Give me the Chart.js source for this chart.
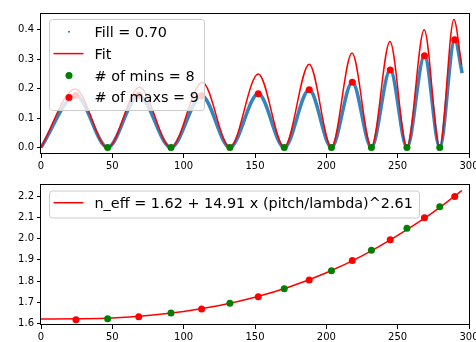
<!DOCTYPE html>
<html>
<head>
<meta charset="utf-8">
<script src="https://cdn.jsdelivr.net/npm/chart.js@4"></script>
<style>
  body { margin: 0; background: #fff; }
  canvas { display: block; }
</style>
</head>
<body>
<canvas id="topChart" width="476" height="171"></canvas>
<canvas id="bottomChart" width="476" height="171"></canvas>
<script>
// ---- top panel: fill ratio vs pitch ----
var fillX = [0, 24.5, 46.7, 68.5, 91.1, 112.6, 132.4, 152.3, 170.5, 188, 203.6, 218.2, 231.6, 244.8, 256.5, 268.8, 279.5, 290.0, 295.2]
var fillY = [0, 0.177, 0, 0.178, 0, 0.176, 0, 0.1825, 0, 0.196, 0, 0.222, 0, 0.263, 0, 0.312, 0, 0.366, 0.253]

var fitX = [0, 24.0, 46.7, 69.0, 91.1, 113.0, 132.4, 152.3, 170.5, 188, 203.6, 218.0, 231.6, 244.6, 256.5, 268.6, 279.5, 289.4, 294.8]
var fitY = [0, 0.199, 0, 0.205, 0, 0.222, 0, 0.250, 0, 0.283, 0, 0.321, 0, 0.360, 0, 0.400, 0, 0.435, 0.282]

var minX = [46.7, 91.1, 132.4, 170.5, 203.6, 231.6, 256.5, 279.5]
var minY = [0, 0, 0, 0, 0, 0, 0, 0]
var maxX = [24.5, 68.5, 112.6, 152.3, 188, 218.2, 244.8, 268.8, 290.0]
var maxY = [0.177, 0.178, 0.176, 0.1825, 0.196, 0.222, 0.263, 0.312, 0.366]

// ---- bottom panel: effective index ----
var neffFitX = [0, 25, 50, 75, 100, 125, 150, 175, 200, 225, 250, 275, 295]
var neffFitY = [1.620, 1.621, 1.625, 1.637, 1.656, 1.684, 1.723, 1.774, 1.839, 1.919, 2.016, 2.126, 2.228]
var neffMinY = [1.622, 1.649, 1.695, 1.763, 1.849, 1.946, 2.050, 2.151]
var neffMaxY = [1.617, 1.631, 1.668, 1.726, 1.805, 1.897, 1.995, 2.099, 2.200]

var xTicks = [0, 50, 100, 150, 200, 250, 300]
var topYTicks = [0.0, 0.1, 0.2, 0.3, 0.4]
var bottomYTicks = [1.6, 1.7, 1.8, 1.9, 2.0, 2.1, 2.2]

function pts(xs, ys) {
  return xs.map(function(x, i) { return { x: x, y: ys[i] } })
}

var spines = {
  id: 'spines',
  afterDraw: function(chart) {
    var a = chart.chartArea, ctx = chart.ctx
    ctx.save()
    ctx.strokeStyle = '#000'
    ctx.lineWidth = 1
    ctx.strokeRect(Math.round(a.left) - 0.5, Math.round(a.top) + 0.5,
      Math.round(a.right - a.left) + 1, Math.round(a.bottom - a.top) - 1)
    ctx.restore()
  }
}

// matplotlib style legend sitting inside the axes
var insideLegend = {
  id: 'insideLegend',
  afterDatasetsDraw: function(chart, args, opts) {
    var ctx = chart.ctx
    ctx.save()
    ctx.beginPath()
    ctx.roundRect(opts.x + 0.5, opts.y + 0.5, opts.w, opts.h, 3)
    ctx.fillStyle = 'rgba(255,255,255,0.8)'
    ctx.fill()
    ctx.strokeStyle = '#cccccc'
    ctx.lineWidth = 1
    ctx.stroke()
    ctx.font = '14.4px "DejaVu Sans"'
    ctx.textBaseline = 'alphabetic'
    var items = chart.data.datasets.filter(function(ds) { return ds.legendMarker })
    items.forEach(function(ds, i) {
      var base = opts.y + opts.first + i * opts.step
      var cy = base - 5
      ctx.fillStyle = ds.legendColor
      ctx.strokeStyle = ds.legendColor
      if (ds.legendMarker == 'line') {
        ctx.lineWidth = 1.5
        ctx.beginPath()
        ctx.moveTo(opts.x + 4.5, cy)
        ctx.lineTo(opts.x + 34.5, cy)
        ctx.stroke()
      } else {
        ctx.beginPath()
        ctx.arc(opts.x + 20, cy, ds.legendMarker == 'dot' ? 1 : 3.5, 0, Math.PI * 2)
        ctx.fill()
      }
      ctx.fillStyle = '#000'
      ctx.fillText(ds.label, opts.x + 45.5, base)
    })
    ctx.restore()
  }
}

function makeScales(yMin, yMax, yTicks) {
  var common = {
    type: 'linear',
    border: { display: false },
    grid: { display: true, drawOnChartArea: false, drawTicks: true, tickLength: 4, tickColor: '#000', tickWidth: 1 }
  }
  return {
    x: Object.assign({}, common, {
      min: 0, max: 300,
      ticks: { color: '#000', font: { family: 'DejaVu Sans', size: 10 }, padding: 2, maxRotation: 0,
        callback: function(v) { return String(v) } },
      afterBuildTicks: function(s) { s.ticks = xTicks.map(function(v) { return { value: v } }) },
      afterFit: function(s) { s.height = 17; s.paddingLeft = 0; s.paddingRight = 0 }
    }),
    y: Object.assign({}, common, {
      min: yMin, max: yMax,
      ticks: { color: '#000', font: { family: 'DejaVu Sans', size: 10 }, padding: 3,
        callback: function(v) { return v.toFixed(1) } },
      afterBuildTicks: function(s) { s.ticks = yTicks.map(function(v) { return { value: v } }) },
      afterFit: function(s) { s.width = 41; s.paddingTop = 0; s.paddingBottom = 0 }
    })
  }
}

document.addEventListener("DOMContentLoaded", function(event) {

new Chart(document.getElementById("topChart"), {
  type: 'scatter',
  data: {
    datasets: [
      {
        label: 'Fill = 0.70',
        data: pts(fillX, fillY),
        showLine: true,
        cubicInterpolationMode: 'monotone',
        borderColor: 'rgba(31,119,180,0.9)',
        borderWidth: 3.5,
        pointRadius: 0,
        order: 4,
        legendMarker: 'dot', legendColor: '#1f77b4'
      },
      {
        label: 'Fit',
        data: pts(fitX, fitY),
        showLine: true,
        cubicInterpolationMode: 'monotone',
        borderColor: '#ff0000',
        borderWidth: 1.5,
        pointRadius: 0,
        order: 3,
        legendMarker: 'line', legendColor: '#ff0000'
      },
      {
        label: '# of mins = 8',
        data: pts(minX, minY),
        backgroundColor: '#008000',
        borderWidth: 0,
        pointRadius: 3.5,
        order: 2,
        legendMarker: 'circle', legendColor: '#008000'
      },
      {
        label: '# of maxs = 9',
        data: pts(maxX, maxY),
        backgroundColor: '#ff0000',
        borderWidth: 0,
        pointRadius: 3.5,
        order: 1,
        legendMarker: 'circle', legendColor: '#ff0000'
      }
    ]
  },
  options: {
    responsive: false,
    animation: false,
    clip: false,
    layout: { padding: { top: 13, right: 7, bottom: 0, left: 0 } },
    scales: makeScales(-0.022, 0.457, topYTicks),
    plugins: {
      legend: { display: false },
      tooltip: { enabled: false },
      insideLegend: { x: 49, y: 19, w: 155, h: 91, first: 17.7, step: 21.9 }
    }
  },
  plugins: [spines, insideLegend]
});

new Chart(document.getElementById("bottomChart"), {
  type: 'scatter',
  data: {
    datasets: [
      {
        label: 'n_eff = 1.62 + 14.91 x (pitch/lambda)^2.61',
        data: pts(neffFitX, neffFitY),
        showLine: true,
        cubicInterpolationMode: 'monotone',
        borderColor: '#ff0000',
        borderWidth: 1.5,
        pointRadius: 0,
        order: 3,
        legendMarker: 'line', legendColor: '#ff0000'
      },
      {
        label: 'mins',
        data: pts(minX, neffMinY),
        backgroundColor: '#008000',
        borderWidth: 0,
        pointRadius: 3.5,
        order: 2
      },
      {
        label: 'maxs',
        data: pts(maxX, neffMaxY),
        backgroundColor: '#ff0000',
        borderWidth: 0,
        pointRadius: 3.5,
        order: 1
      }
    ]
  },
  options: {
    responsive: false,
    animation: false,
    clip: false,
    layout: { padding: { top: 13, right: 7, bottom: 0, left: 0 } },
    scales: makeScales(1.592, 2.259, bottomYTicks),
    plugins: {
      legend: { display: false },
      tooltip: { enabled: false },
      insideLegend: { x: 49, y: 19.5, w: 370, h: 27, first: 17.2, step: 21.9 }
    }
  },
  plugins: [spines, insideLegend]
});

});
</script>
</body>
</html>
